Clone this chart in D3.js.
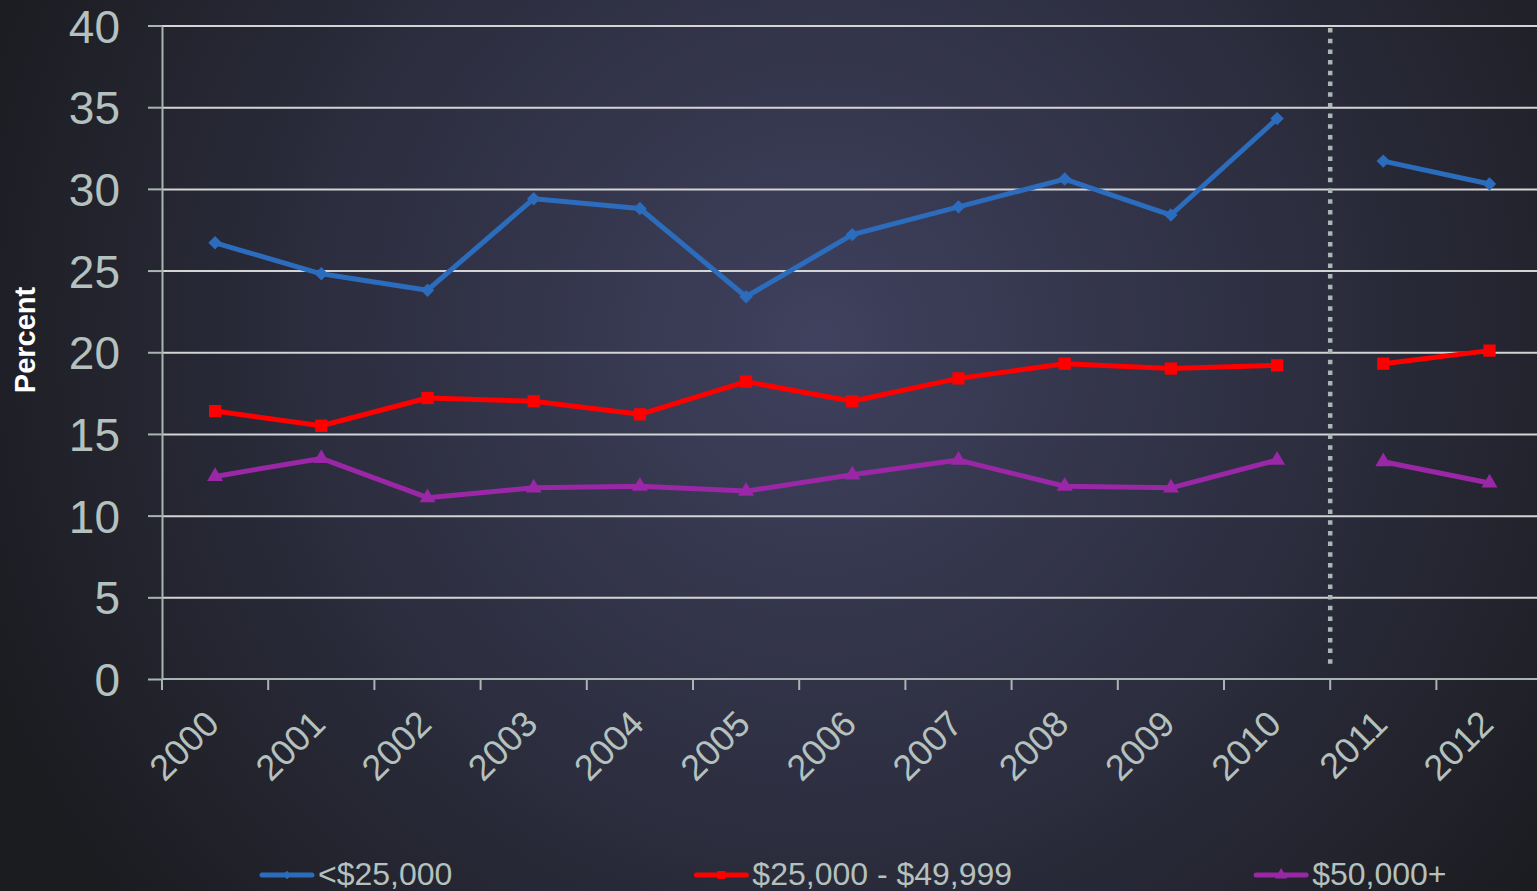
<!DOCTYPE html>
<html>
<head>
<meta charset="utf-8">
<script src="https://cdn.jsdelivr.net/npm/d3@7"></script>
<style>
  html, body { margin: 0; padding: 0; overflow: hidden; background: #202128; }
  text { font-family: "Liberation Sans", Arial, sans-serif; }
</style>
</head>
<body>
<script>
const YEARS = ["2000", "2001", "2002", "2003", "2004", "2005", "2006",
  "2007", "2008", "2009", "2010", "2011", "2012"];
const UNDER_25K = [26.7, 24.8, 23.8, 29.4, 28.8, 23.4, 27.2, 28.9, 30.6, 28.4, 34.3, 31.7, 30.3];
const FROM_25K_TO_50K = [16.4, 15.5, 17.2, 17.0, 16.2, 18.2, 17.0, 18.4, 19.3, 19.0, 19.2, 19.3, 20.1];
const OVER_50K = [12.4, 13.5, 11.1, 11.7, 11.8, 11.5, 12.5, 13.4, 11.8, 11.7, 13.4, 13.3, 12.0];
const SERIES_NAMES = ["<$25,000", "$25,000 - $49,999", "$50,000+"];
const Y_TICKS = [0, 5, 10, 15, 20, 25, 30, 35, 40];
// lines are broken and a dotted rule is drawn in front of this year
const BREAK_YEAR = "2011";

const width = 1537,
  height = 891,
  labelColor = "#b4c1be",
  axisColor = "#a9b5b3",
  margin = { left: 162, top: 25.5, bottom: 679 };

const series = [
  { name: SERIES_NAMES[0], values: UNDER_25K, color: "#2c6cbd", symbol: "diamond" },
  { name: SERIES_NAMES[1], values: FROM_25K_TO_50K, color: "#ff0000", symbol: "square" },
  { name: SERIES_NAMES[2], values: OVER_50K, color: "#9a27a6", symbol: "triangle" }
];

const svg = d3.select("body")
  .append("svg")
  .attr("width", width)
  .attr("height", height);

// background glow
const grad = svg.append("defs")
  .append("radialGradient")
  .attr("id", "bg")
  .attr("gradientUnits", "userSpaceOnUse")
  .attr("cx", 820).attr("cy", 340).attr("r", 900);
grad.append("stop").attr("offset", "0").attr("stop-color", "#3f415e");
grad.append("stop").attr("offset", "0.55").attr("stop-color", "#2c2d3e");
grad.append("stop").attr("offset", "1").attr("stop-color", "#1b1c20");

svg.append("rect")
  .attr("width", width)
  .attr("height", height)
  .attr("fill", "url(#bg)");

const xScale = d3.scaleBand()
  .domain(YEARS)
  .range([margin.left, margin.left + 106.2 * YEARS.length]);

const yScale = d3.scaleLinear()
  .domain([0, 40])
  .range([margin.bottom, margin.top]);

// gridlines
svg.append("g")
  .attr("transform", `translate(${margin.left},0)`)
  .call(d3.axisLeft(yScale).tickValues(Y_TICKS.slice(1)).tickSize(-(width - margin.left)).tickFormat(""))
  .call(g => g.select(".domain").remove())
  .call(g => g.selectAll("line").attr("stroke", "#d4d4d4").attr("stroke-width", 2));

// y axis
svg.append("g")
  .attr("transform", `translate(${margin.left},0)`)
  .call(d3.axisLeft(yScale).tickValues(Y_TICKS).tickSize(14).tickPadding(28).tickSizeOuter(0))
  .call(g => g.select(".domain").attr("stroke", axisColor).attr("stroke-width", 2))
  .call(g => g.selectAll("line").attr("stroke", axisColor).attr("stroke-width", 2))
  .call(g => g.selectAll("text")
    .attr("fill", labelColor)
    .attr("font-size", 46)
    .attr("font-family", "Liberation Sans, Arial, sans-serif")
    .attr("dy", "0.36em"));

// x axis: labels at band centres, ticks at band edges
const xAxis = svg.append("g")
  .attr("transform", `translate(0,${margin.bottom})`);
xAxis.append("line")
  .attr("x1", margin.left)
  .attr("x2", width)
  .attr("stroke", axisColor)
  .attr("stroke-width", 2);
xAxis.selectAll(".tick-mark")
  .data(YEARS)
  .enter()
  .append("line")
  .attr("class", "tick-mark")
  .attr("x1", d => xScale(d))
  .attr("x2", d => xScale(d))
  .attr("y1", 0)
  .attr("y2", 11)
  .attr("stroke", axisColor)
  .attr("stroke-width", 2);
xAxis.selectAll(".year")
  .data(YEARS)
  .enter()
  .append("text")
  .attr("class", "year")
  .attr("transform", d => `translate(${xScale(d) + xScale.bandwidth() / 2 + 6},47) rotate(-45)`)
  .attr("text-anchor", "end")
  .attr("fill", labelColor)
  .attr("font-size", 36)
  .text(d => d);

// dotted rule
svg.append("line")
  .attr("x1", xScale(BREAK_YEAR))
  .attr("x2", xScale(BREAK_YEAR))
  .attr("y1", 28)
  .attr("y2", 668)
  .attr("stroke", "#aab7b4")
  .attr("stroke-width", 4.5)
  .attr("stroke-dasharray", "4.5 6.2");

svg.append("text")
  .attr("transform", "translate(35,340) rotate(-90)")
  .attr("text-anchor", "middle")
  .attr("fill", "#ffffff")
  .attr("font-weight", "bold")
  .attr("font-size", 29)
  .text("Percent");

const symbolPath = (type, size) => {
  if (type === "triangle") return d3.symbol(d3.symbolTriangle, size)();
  return d3.symbol(d3.symbolSquare, size)();
};
const symbolRotate = type => (type === "diamond" ? " rotate(45)" : "");

const cx = d => xScale(d.year) + xScale.bandwidth() / 2;
const line = d3.line().x(cx).y(d => yScale(d.value));
const breakIndex = YEARS.indexOf(BREAK_YEAR);

series.forEach(s => {
  const pts = YEARS.map((year, i) => ({ year, value: s.values[i] }));
  const segments = [pts.slice(0, breakIndex), pts.slice(breakIndex)];
  const g = svg.append("g");
  g.selectAll("path.seg")
    .data(segments)
    .enter()
    .append("path")
    .attr("class", "seg")
    .attr("d", line)
    .attr("fill", "none")
    .attr("stroke", s.color)
    .attr("stroke-width", 5)
    .attr("stroke-linejoin", "round");
  const markerSize = s.symbol === "square" ? 150 : s.symbol === "diamond" ? 90 : 110;
  g.selectAll("path.mark")
    .data(pts)
    .enter()
    .append("path")
    .attr("class", "mark")
    .attr("d", symbolPath(s.symbol, markerSize))
    .attr("transform", d => `translate(${cx(d)},${yScale(d.value)})${symbolRotate(s.symbol)}`)
    .attr("fill", s.color);
});

// legend
const legend = svg.append("g").attr("transform", "translate(260,0)");
let lx = 0;
series.forEach(s => {
  const item = legend.append("g").attr("transform", `translate(${lx},875)`);
  item.append("line")
    .attr("x1", 2).attr("x2", 52)
    .attr("stroke", s.color)
    .attr("stroke-width", 5)
    .attr("stroke-linecap", "round");
  item.append("path")
    .attr("d", symbolPath(s.symbol, s.symbol === "diamond" ? 36 : 64))
    .attr("transform", `translate(27,0)${symbolRotate(s.symbol)}`)
    .attr("fill", s.color);
  const t = item.append("text")
    .attr("x", 58)
    .attr("y", 10)
    .attr("fill", labelColor)
    .attr("font-size", 32)
    .text(s.name);
  lx += 58 + t.node().getComputedTextLength() + 242;
});
</script>
</body>
</html>
